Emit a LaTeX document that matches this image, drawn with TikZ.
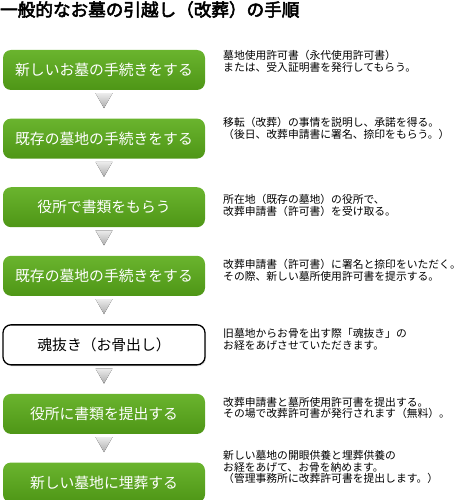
\documentclass[tikz,border=0pt]{standalone}
\usepackage{fontspec}
\setmainfont{Noto Sans CJK JP}
\newfontfamily\titlefont[FakeBold=3]{Noto Sans CJK JP}
\usepackage{xcolor}
\usetikzlibrary{positioning,calc,shadows}

\definecolor{StepTop}{RGB}{106,180,46}
\definecolor{StepBot}{RGB}{78,150,22}

\begin{document}
\begin{tikzpicture}[
  x=1pt, y=-1pt,
  node distance=28.2pt,
  stepbox/.style={rectangle,rounded corners=8pt,draw=none,
              top color=StepTop,bottom color=StepBot,
              minimum width=202pt,minimum height=40pt,inner sep=0pt,
              text=white,font=\fontsize{14.8}{16}\selectfont},
  plainbox/.style={stepbox,top color=white,bottom color=white,
              draw=black,line width=1.3pt,text=black,
              drop shadow={opacity=0.2,shadow xshift=1pt,shadow yshift=-1.5pt}},
  desc/.style={anchor=west,align=left,inner sep=0pt,
              font=\fontsize{10.8}{11.8}\selectfont},
  downtri/.style={top color=gray!15,bottom color=gray!65,draw=none},
]
\useasboundingbox (0,0) rectangle (460,500);

\node[anchor=north west,inner sep=0pt,font=\titlefont\fontsize{17.6}{18}\selectfont]
  (title) at (0,1) {一般的なお墓の引越し（改葬）の手順};

% steps
\node[stepbox] (s1) at (104,70) {新しいお墓の手続きをする};
\node[stepbox,below=of s1] (s2) {既存の墓地の手続きをする};
\node[stepbox,below=of s2] (s3) {役所で書類をもらう};
\node[stepbox,below=of s3] (s4) {既存の墓地の手続きをする};
\node[plainbox,below=of s4] (s5) {魂抜き（お骨出し）};
\node[stepbox,below=of s5] (s6) {役所に書類を提出する};
\node[stepbox,below=of s6] (s7) {新しい墓地に埋葬する};

% explanations
\node[desc] (d1) at (223,61.5) {墓地使用許可書（永代使用許可書）\\または、受入証明書を発行してもらう。};
\node[desc] (d2) at (223,128) {移転（改葬）の事情を説明し、承諾を得る。\\（後日、改葬申請書に署名、捺印をもらう。）};
\node[desc] (d3) at (223,205) {所在地（既存の墓地）の役所で、\\改葬申請書（許可書）を受け取る。};
\node[desc] (d4) at (223,270) {改葬申請書（許可書）に署名と捺印をいただく。\\その際、新しい墓所使用許可書を提示する。};
\node[desc] (d5) at (223,339) {旧墓地からお骨を出す際「魂抜き」の\\お経をあげさせていただきます。};
\node[desc] (d6) at (223,408) {改葬申請書と墓所使用許可書を提出する。\\その場で改葬許可書が発行されます（無料）。};
\node[desc] (d7) at (223,467) {新しい墓地の開眼供養と埋葬供養の\\お経をあげて、お骨を納めます。\\（管理事務所に改葬許可書を提出します。）};

% arrows between steps
\foreach \a in {s1,s2,s3,s4,s5,s6}
  \fill[downtri] ($(\a.south)+(-8.5,3)$) -- ($(\a.south)+(8.5,3)$) -- ($(\a.south)+(0,18)$) -- cycle;

\end{tikzpicture}
\end{document}
